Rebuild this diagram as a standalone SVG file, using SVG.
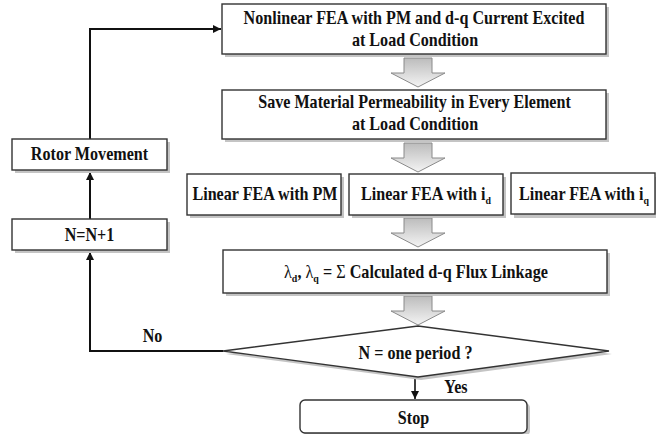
<svg xmlns="http://www.w3.org/2000/svg" width="656" height="434" viewBox="0 0 656 434">
<style>
.box{fill:#ffffff;stroke:#333333;stroke-width:1.4}
.sh{fill:#c4c4c4}
.t{font-family:"Liberation Serif","Times New Roman",serif;font-weight:bold;font-size:18px;fill:#111111;text-anchor:middle}
.s{font-size:11px}
.g{font-weight:normal}
.con{fill:none;stroke:#111111;stroke-width:2}
.blk{fill:url(#bg);stroke:#8a8a8a;stroke-width:1}
</style>
<defs>
<linearGradient id="bg" x1="0" y1="0" x2="0" y2="1">
<stop offset="0" stop-color="#bcbcbc"/>
<stop offset="1" stop-color="#f4f4f4"/>
</linearGradient>
<marker id="ah" viewBox="0 0 10 10" refX="10" refY="5" markerWidth="9" markerHeight="8" markerUnits="userSpaceOnUse" orient="auto">
<path d="M0,0 L10,5 L0,10 z" fill="#111111"/>
</marker>
<path id="barrow" d="M-14,0 H14 V15 H27 L0,29 L-27,15 H-14 Z"/>
</defs>
<rect width="656" height="434" fill="#ffffff"/>

<g id="connectors">
<path class="con" d="M223,351 H90 V252" marker-end="url(#ah)"/>
<path class="con" d="M90,219 V172" marker-end="url(#ah)"/>
<path class="con" d="M90,139 V29 H221" marker-end="url(#ah)"/>
<path class="con" style="stroke-width:1.6" d="M415,377 V399" marker-end="url(#ah)"/>
<use href="#barrow" class="blk" x="418" y="58"/>
<use href="#barrow" class="blk" x="418" y="143"/>
<use href="#barrow" class="blk" x="418" y="218"/>
<use href="#barrow" class="blk" x="418" y="296"/>
</g>

<g id="n_nonlinear">
<rect class="sh" x="225" y="7" width="384" height="50"/>
<rect class="box" x="222" y="4" width="384" height="50"/>
<text class="t" transform="translate(414 24) scale(0.895 1)">Nonlinear FEA with PM and d-q Current Excited</text>
<text class="t" transform="translate(415 46) scale(0.895 1)">at Load Condition</text>
</g>

<g id="n_save">
<rect class="sh" x="225" y="93" width="384" height="49"/>
<rect class="box" x="222" y="90" width="384" height="49"/>
<text class="t" transform="translate(414.5 108) scale(0.895 1)">Save Material Permeability in Every Element</text>
<text class="t" transform="translate(415 130) scale(0.895 1)">at Load Condition</text>
</g>

<g id="n_rotor">
<rect class="sh" x="15" y="142" width="155" height="31"/>
<rect class="box" x="12" y="139" width="155" height="31"/>
<text class="t" transform="translate(89.5 160) scale(0.895 1)">Rotor Movement</text>
</g>

<g id="n_incr">
<rect class="sh" x="15" y="222" width="155" height="31"/>
<rect class="box" x="12" y="219" width="155" height="31"/>
<text class="t" transform="translate(89.5 241) scale(0.895 1)">N=N+1</text>
</g>

<g id="n_pm">
<rect class="sh" x="190" y="177" width="154" height="41"/>
<rect class="box" x="187" y="174" width="154" height="41"/>
<text class="t" transform="translate(265 200) scale(0.895 1)">Linear FEA with PM</text>
</g>

<g id="n_id">
<rect class="sh" x="352" y="177" width="154" height="41"/>
<rect class="box" x="349" y="174" width="154" height="41"/>
<text class="t" transform="translate(426 200) scale(0.895 1)">Linear FEA with i<tspan class="s" dy="4">d</tspan></text>
</g>

<g id="n_iq">
<rect class="sh" x="514" y="177" width="144" height="41"/>
<rect class="box" x="511" y="173" width="144" height="41"/>
<text class="t" transform="translate(584 200) scale(0.895 1)">Linear FEA with i<tspan class="s" dy="4">q</tspan></text>
</g>

<g id="n_flux">
<rect class="sh" x="226" y="253" width="384" height="43"/>
<rect class="box" x="223" y="250" width="384" height="43"/>
<text class="t" transform="translate(416 278) scale(0.9 1)"><tspan class="g">λ</tspan><tspan class="s" dy="4">d</tspan><tspan dy="-4">, </tspan><tspan class="g">λ</tspan><tspan class="s" dy="4">q</tspan><tspan dy="-4"> = </tspan><tspan class="g">Σ</tspan> Calculated d-q Flux Linkage</text>
</g>

<g id="n_decision">
<polygon class="sh" points="226,354 421,329 612,354 421,380"/>
<polygon class="box" points="223,351 418,326 609,351 418,377"/>
<text class="t" transform="translate(415.5 359) scale(0.895 1)">N = one period ?</text>
</g>

<g id="n_stop">
<rect class="sh" x="303" y="403" width="227" height="33" rx="5"/>
<rect class="box" x="300" y="400" width="227" height="33" rx="5"/>
<text class="t" transform="translate(413.5 424) scale(0.895 1)">Stop</text>
</g>

<g id="labels">
<text class="t" transform="translate(152.5 342) scale(0.895 1)">No</text>
<text class="t" transform="translate(456 393) scale(0.895 1)">Yes</text>
</g>
</svg>
